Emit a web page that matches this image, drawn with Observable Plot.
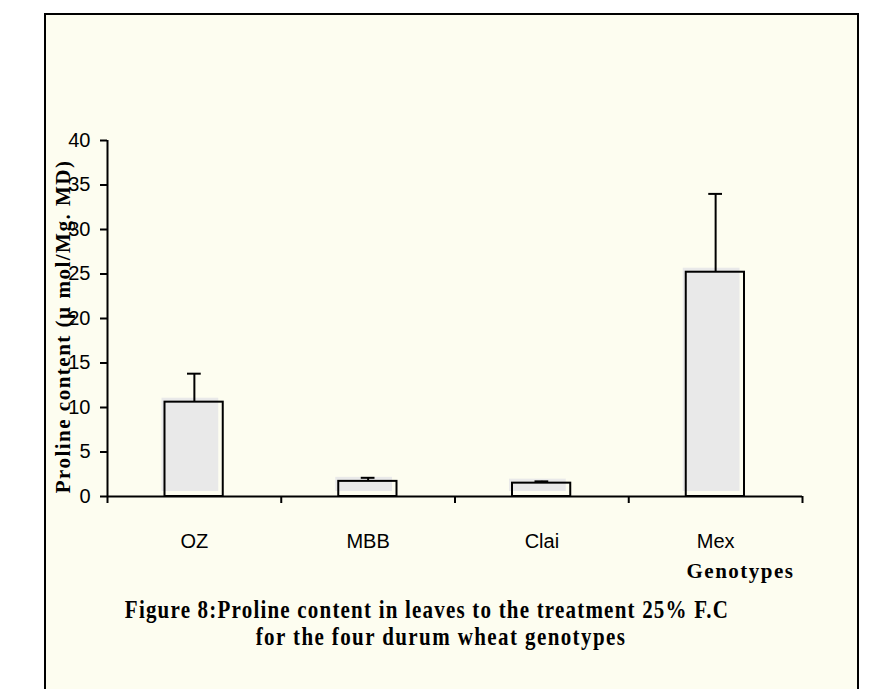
<!DOCTYPE html>
<html>
<head>
<meta charset="utf-8">
<script src="https://cdn.jsdelivr.net/npm/d3@7"></script>
<script src="https://cdn.jsdelivr.net/npm/@observablehq/plot@0.6"></script>
<style>
  html, body { margin: 0; padding: 0; background: #ffffff; overflow: hidden; width: 891px; height: 689px; }
  #frame { position: absolute; left: 44px; top: 13px; width: 811px; height: 700px; border: 2px solid #000; background: #fdfdf0; }
  #chart { position: absolute; left: 0; top: 0; }
  .cap { position: absolute; width: 700px; text-align: center; white-space: nowrap;
    font-family: "Liberation Serif", "Times New Roman", serif; font-weight: bold; font-size: 21px;
    line-height: 22.5px; transform: scaleY(1.2); transform-origin: top left; color: #000; }
  #cap1 { left: 77px; top: 596px; letter-spacing: 1.2px; }
  #cap2 { left: 91px; top: 623px; letter-spacing: 1.4px; }
</style>
</head>
<body>
<div id="frame"></div>
<div id="chart"></div>
<div id="cap1" class="cap">Figure 8:Proline content in leaves to the treatment 25% F.C</div>
<div id="cap2" class="cap">for the four durum wheat genotypes</div>
<script>
// ---- data ----
const categories = ["OZ", "MBB", "Clai", "Mex"];
const means = [10.6, 1.7, 1.5, 25.2];
const errors = [3.2, 0.4, 0.2, 8.8];
const yTicks = [0, 5, 10, 15, 20, 25, 30, 35, 40];
const yLabel = "Proline content (\u00b5 mol/Mg. MD)";
const xLabel = "Genotypes";

const rows = categories.map((c, i) => ({c, i, mean: means[i], err: errors[i]}));

const serif = "Liberation Serif, Times New Roman, serif";

const plot = Plot.plot({
  width: 891,
  height: 620,
  marginLeft: 107,
  marginRight: 89,
  marginTop: 140,
  marginBottom: 124,
  style: {background: "transparent", fontFamily: "Liberation Sans, Arial, sans-serif", fontSize: "20px", color: "#000", overflow: "visible"},
  x: {domain: [0, categories.length], axis: null},
  y: {domain: [0, 40], axis: null},
  marks: [
    // textured gray fill (slightly offset like the original)
    Plot.rectY(rows, {x1: d => d.i, x2: d => d.i + 1, y1: d => 0, y2: "mean",
      insetLeft: 54.5, insetRight: 62.5, insetTop: -4, insetBottom: 5, fill: "#e9e9e9"}),
    // bar outline
    Plot.rectY(rows, {x1: d => d.i, x2: d => d.i + 1, y1: d => 0, y2: "mean",
      insetLeft: 57.5, insetRight: 58, fill: "none", stroke: "#000", strokeWidth: 2}),
    // error bars (upper only)
    Plot.ruleX(rows, {x: d => d.i + 0.5, y1: "mean", y2: d => d.mean + d.err, stroke: "#000", strokeWidth: 2}),
    Plot.ruleY(rows, {x1: d => d.i, x2: d => d.i + 1, y: d => d.mean + d.err,
      insetLeft: 80, insetRight: 80, stroke: "#000", strokeWidth: 2}),
    // axes
    Plot.axisY({ticks: yTicks, tickSize: 7, tickPadding: 10, strokeWidth: 2, fontSize: 20, label: null}),
    Plot.axisX({ticks: d3.range(0, categories.length + 1), tickFormat: () => "", tickSize: 7, strokeWidth: 2, label: null}),
    Plot.ruleX([0], {stroke: "#000", strokeWidth: 2}),
    Plot.ruleY([0], {stroke: "#000", strokeWidth: 2}),
    // category labels
    Plot.text(rows, {x: d => d.i + 0.5, y: d => 0, text: "c", dy: 45, lineAnchor: "middle", fontSize: 20}),
    // axis titles
    Plot.text([yLabel], {frameAnchor: "left", textAnchor: "middle", rotate: -90, dx: -44, dy: 8, lineAnchor: "middle",
      fontFamily: serif, fontWeight: "bold", fontSize: 21}),
    Plot.text([xLabel], {frameAnchor: "bottom-right", textAnchor: "end", dx: -8, dy: 75, lineAnchor: "middle",
      fontFamily: serif, fontWeight: "bold", fontSize: 21})
  ]
});

d3.select(plot).selectAll("text")
  .filter(function() { return this.textContent === yLabel || this.textContent === xLabel; })
  .style("letter-spacing", "1.5px");

document.getElementById("chart").appendChild(plot);
</script>
</body>
</html>
